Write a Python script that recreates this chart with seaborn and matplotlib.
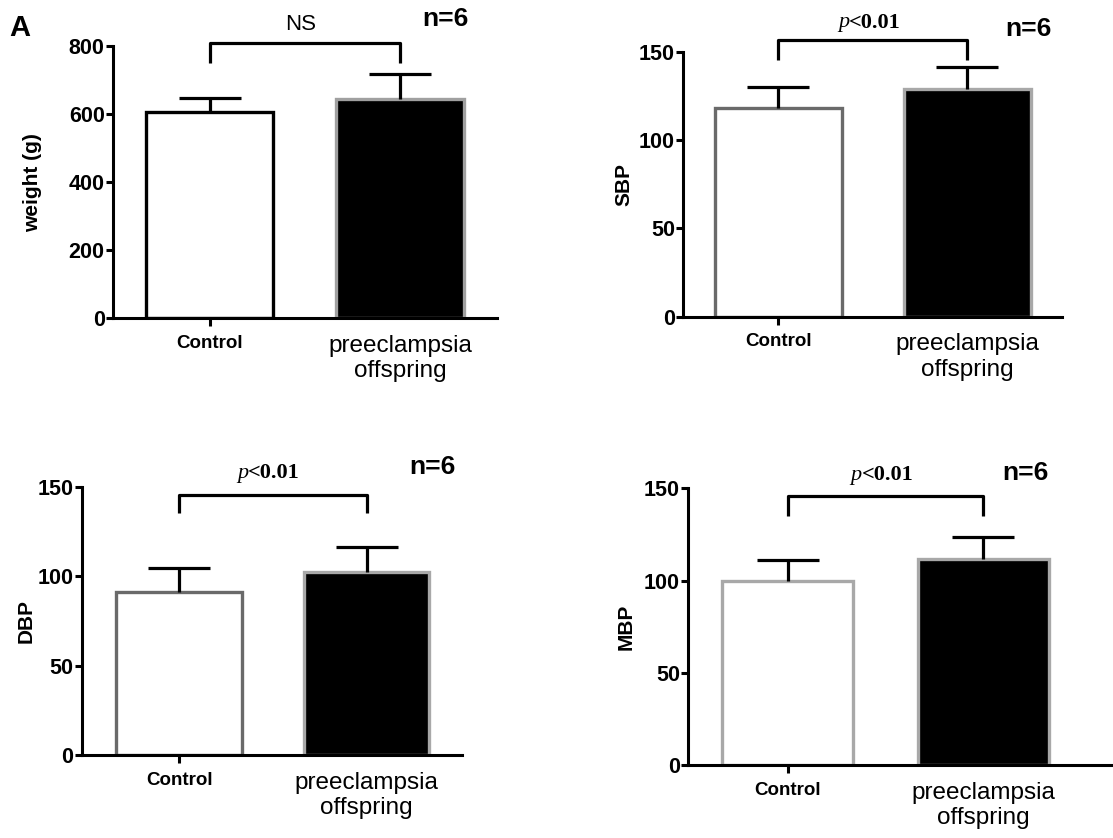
import numpy as np
import pandas as pd
import seaborn as sns
import matplotlib.pyplot as plt

groups = ['Control', 'preeclampsia\noffspring']

weight_mean = [605, 644]
weight_err = [43, 74]
sbp_mean = [118.0, 128.7]
sbp_err = [11.8, 12.8]
dbp_mean = [91.3, 102.5]
dbp_err = [13.1, 14.0]
mbp_mean = [99.9, 111.5]
mbp_err = [11.2, 12.3]

ylabels = ['weight (g)', 'SBP', 'DBP', 'MBP']
sig_labels = ['NS', 'p<0.01', 'p<0.01', 'p<0.01']
n_label = 'n=6'

sns.set_style('ticks')
plt.rcParams['font.family'] = ['Liberation Sans', 'DejaVu Sans']
plt.rcParams.update({'text.color': 'black', 'axes.labelcolor': 'black',
                     'xtick.color': 'black', 'ytick.color': 'black',
                     'axes.edgecolor': 'black'})

W, H = 1113, 838
fig = plt.figure(figsize=(W / 100, H / 100), dpi=100)


def fx(x):
    return x / W


def fy(y):
    return 1 - y / H


def panel(box, means, errs, ylabel, ymax, ystep, edges, xlim, bracket, ylab_x):
    # box = (left, top, right, bottom) in pixels
    l, t, r, b = box
    ax = fig.add_axes([fx(l), fy(b), (r - l) / W, (b - t) / H])
    df = pd.DataFrame({'group': groups, 'value': means})
    sns.barplot(data=df, x='group', y='value', hue='group',
                palette=['white', 'black'], width=0.67, linewidth=2.4,
                saturation=1, legend=False, ax=ax)
    for bar, ec in zip(ax.patches, edges):
        bar.set_edgecolor(ec)
    eb = ax.errorbar([0, 1], means, yerr=[[0, 0], errs], fmt='none', ecolor='black',
                     elinewidth=2.3, capsize=22, capthick=2.3, zorder=3)
    eb[1][0].set_visible(False)  # only upper caps, prism style
    lo, hi = bracket
    ax.plot([0, 0, 1, 1], [lo, hi, hi, lo], color='black', lw=2.3,
            clip_on=False, solid_capstyle='butt')
    sns.despine(ax=ax)
    for s in ['left', 'bottom']:
        ax.spines[s].set_linewidth(2.2)
    ax.set_xlim(*xlim)
    ax.set_ylim(0, ymax)
    ax.set_yticks(np.arange(0, ymax + 1, ystep))
    ax.tick_params(axis='y', direction='out', length=5, width=2.2, pad=1,
                   labelsize=15.5)
    ax.tick_params(axis='x', direction='out', length=6, width=2.2, pad=6)
    for lab in ax.get_yticklabels():
        lab.set_fontweight('bold')
    xl = ax.get_xticklabels()
    xl[0].set_fontweight('bold')
    xl[0].set_fontsize(13.5)
    xl[1].set_fontsize(17.5)
    ax.xaxis.get_major_ticks()[1].tick1line.set_visible(False)
    ax.set_xlabel('')
    ax.set_ylabel(ylabel, fontsize=15, fontweight='bold', va='center')
    ax.yaxis.set_label_coords(-(l - ylab_x) / (r - l), 0.5)
    return ax


panel((113, 46, 497, 318.3), weight_mean, weight_err, ylabels[0], 800, 200,
      ['black', '#a0a0a0'], (-0.507, 1.509), (749, 808), 32.5)
panel((683.3, 51.7, 1061.7, 316.7), sbp_mean, sbp_err, ylabels[1], 150, 50,
      ['#6a6a6a', '#a8a8a8'], (-0.502, 1.498), (145.3, 156.6), 624)
panel((81.7, 486.7, 461.7, 755), dbp_mean, dbp_err, ylabels[2], 150, 50,
      ['#6a6a6a', '#a8a8a8'], (-0.52, 1.507), (135.1, 145.4), 26)
panel((688.3, 488.3, 1113, 765), mbp_mean, mbp_err, ylabels[3], 150, 50,
      ['#a8a8a8', '#a8a8a8'], (-0.507, 1.662), (135, 145.8), 626)

# panel letter
fig.text(fx(20), fy(28), 'A', fontsize=21, fontweight='bold',
         ha='center', va='center')

# n labels
for x, y in [(445, 19), (1028.3, 29), (432.5, 466.7), (1025.8, 472.7)]:
    fig.text(fx(x), fy(y), n_label, fontsize=19, fontweight='bold',
             ha='center', va='center')

# significance labels
fig.text(fx(300.8), fy(24), sig_labels[0], fontsize=16, ha='center', va='center')
for (x, y), lab in zip([(869, 22.5), (268.3, 473.3), (881.7, 475)], sig_labels[1:]):
    left = x - 31
    fig.text(fx(left), fy(y), lab[0], fontsize=16, style='italic',
             family='Liberation Serif', ha='left', va='center')
    fig.text(fx(left + 11), fy(y), lab[1:], fontsize=16, fontweight='bold',
             family='Liberation Serif', ha='left', va='center')

fig.savefig('out.png', dpi=100)
